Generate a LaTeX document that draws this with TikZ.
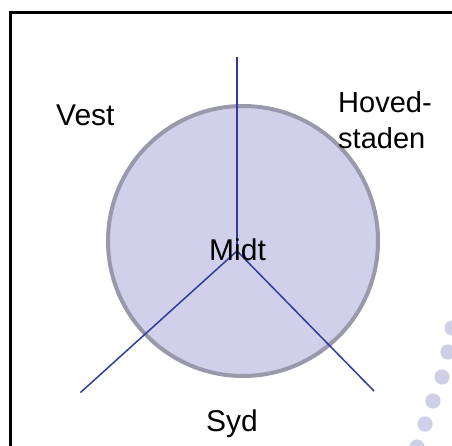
\documentclass[tikz,border=0pt]{standalone}
\usepackage{fontspec}
\setmainfont{Liberation Sans}
\definecolor{discfill}{HTML}{D0D0EA}
\definecolor{discedge}{HTML}{9A98AB}
\definecolor{spoke}{HTML}{2E3D9B}
\definecolor{dotcol}{HTML}{CFCFE8}
\tikzset{
  lbl/.style={inner sep=0pt, anchor=base west, font=\fontsize{30}{36}\selectfont},
  spokeline/.style={draw=spoke, line width=1.5pt},
  deco/.style={fill=dotcol, draw=none},
}
\begin{document}
\begin{tikzpicture}[x=1pt,y=-1pt]
\useasboundingbox (0,0) rectangle (452,446);
\fill[white] (0,0) rectangle (452,446);
% frame
\draw[line width=2.5pt] (10.5,460) -- (10.5,12.5) -- (470,12.5);
% decorative dots
\foreach \p in {(452,328),(448,352),(442,377),(433,401),(425,424),(417,447)}
  \fill[deco] \p circle (7.6);
% disc
\node[circle, minimum size=270pt, inner sep=0pt, fill=discfill, draw=discedge, line width=4pt] (disc) at (243,241) {};
% spokes
\coordinate (hub) at (237,251);
\coordinate (top) at (237,57);
\coordinate (ll) at (80.5,392.5);
\coordinate (lr) at (374,391);
\draw[spokeline] (hub) -- (top);
\draw[spokeline] (hub) -- (ll);
\draw[spokeline] (hub) -- (lr);
% labels
\node[lbl] (vest) at (56,126) {Vest};
\node[lbl, align=left, font=\fontsize{29}{36}\selectfont] (hoved) at (338,149) {Hoved-\\staden};
\node[lbl] (midt) at (209,260) {Midt};
\node[lbl] (syd) at (206,431) {Syd};
\end{tikzpicture}
\end{document}
